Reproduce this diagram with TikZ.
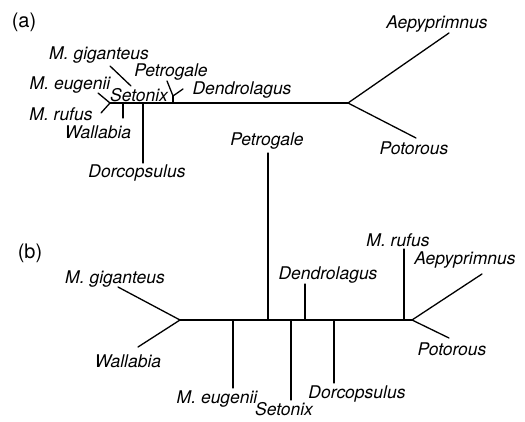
\documentclass[tikz,border=0pt]{standalone}
\usepackage{fontspec}
\setmainfont{TeX Gyre Heros}
\usepackage{tikz}
\usetikzlibrary{positioning}

\begin{document}
\begin{tikzpicture}[
    x=1pt, y=-1pt,
    taxon/.style={font=\fontsize{17.5}{20}\selectfont\itshape, inner sep=0pt},
    panel/.style={font=\fontsize{20}{24}\selectfont, inner sep=0pt},
    branch/.style={line width=1.3pt, line cap=round}
]
    \useasboundingbox (0,0) rectangle (525,422);

    % tree (a)
    \node[panel] (pa) at (24,22) {(a)};
    \coordinate (aL) at (110,103);
    \coordinate (aR) at (348,103);
    \coordinate (aWal) at (123,103);
    \coordinate (aDor) at (143,103);
    \coordinate (aPD) at (173,103);
    \coordinate (aPDs) at (173,96);
    \coordinate (aEug) at (98,93);
    \coordinate (aRuf) at (101,113);
    \coordinate (aGigA) at (110,66);
    \coordinate (aGigB) at (131,86);
    \coordinate (aWalE) at (123,118);
    \coordinate (aDorE) at (143,163);
    \coordinate (aPetE) at (167,81);
    \coordinate (aDenE) at (183,89);
    \coordinate (aAepE) at (449,33);
    \coordinate (aPotE) at (416,138);

    \node[taxon] (aGig) at (99,55) {M. giganteus};
    \node[taxon] (aEugT) at (70,85) {M. eugenii};
    \node[taxon] (aRufT) at (61,114) {M. rufus};
    \node[taxon] (aWalT) at (98,132) {Wallabia};
    \node[taxon] (aDorT) at (137,173) {Dorcopsulus};
    \node[taxon] (aSet) at (139,95) {Setonix};
    \node[taxon] (aPetT) at (171,72) {Petrogale};
    \node[taxon] (aDenT) at (242,90) {Dendrolagus};
    \node[taxon] (aAepT) at (437,24) {Aepyprimnus};
    \node[taxon] (aPotT) at (414,148) {Potorous};

    \draw[branch] (aL) -- (aR);
    \draw[branch] (aEug) -- (aL) -- (aRuf);
    \draw[branch] (aGigA) -- (aGigB);
    \draw[branch] (aWal) -- (aWalE);
    \draw[branch] (aDor) -- (aDorE);
    \draw[branch] (aPD) -- (aPDs);
    \draw[branch] (aPetE) -- (aPDs) -- (aDenE);
    \draw[branch] (aAepE) -- (aR) -- (aPotE);

    % tree (b)
    \node[panel] (pb) at (30,253) {(b)};
    \coordinate (bL) at (180,320);
    \coordinate (bR) at (412,320);
    \coordinate (bEug) at (233,320);
    \coordinate (bPet) at (268,320);
    \coordinate (bSet) at (291,320);
    \coordinate (bDen) at (305,320);
    \coordinate (bDor) at (334,320);
    \coordinate (bRuf) at (404,320);
    \coordinate (bGigE) at (118,287);
    \coordinate (bWalE) at (138,347);
    \coordinate (bEugE) at (233,388);
    \coordinate (bPetE) at (268,153);
    \coordinate (bSetE) at (291,400);
    \coordinate (bDenE) at (305,284);
    \coordinate (bDorE) at (334,383);
    \coordinate (bRufE) at (404,249);
    \coordinate (bAepE) at (482,274);
    \coordinate (bPotE) at (449,338);

    \node[taxon] (bGigT) at (115,279) {M. giganteus};
    \node[taxon] (bWalT) at (128,361) {Wallabia};
    \node[taxon] (bEugT) at (217,399) {M. eugenii};
    \node[taxon] (bPetT) at (267,141) {Petrogale};
    \node[taxon] (bSetT) at (284,409) {Setonix};
    \node[taxon] (bDenT) at (328,275) {Dendrolagus};
    \node[taxon] (bDorT) at (357,394) {Dorcopsulus};
    \node[taxon] (bRufT) at (398,240) {M. rufus};
    \node[taxon] (bAepT) at (465,260) {Aepyprimnus};
    \node[taxon] (bPotT) at (452,349) {Potorous};

    \draw[branch] (bL) -- (bR);
    \draw[branch] (bGigE) -- (bL) -- (bWalE);
    \draw[branch] (bEug) -- (bEugE);
    \draw[branch] (bPet) -- (bPetE);
    \draw[branch] (bSet) -- (bSetE);
    \draw[branch] (bDen) -- (bDenE);
    \draw[branch] (bDor) -- (bDorE);
    \draw[branch] (bRuf) -- (bRufE);
    \draw[branch] (bAepE) -- (bR) -- (bPotE);
\end{tikzpicture}
\end{document}
